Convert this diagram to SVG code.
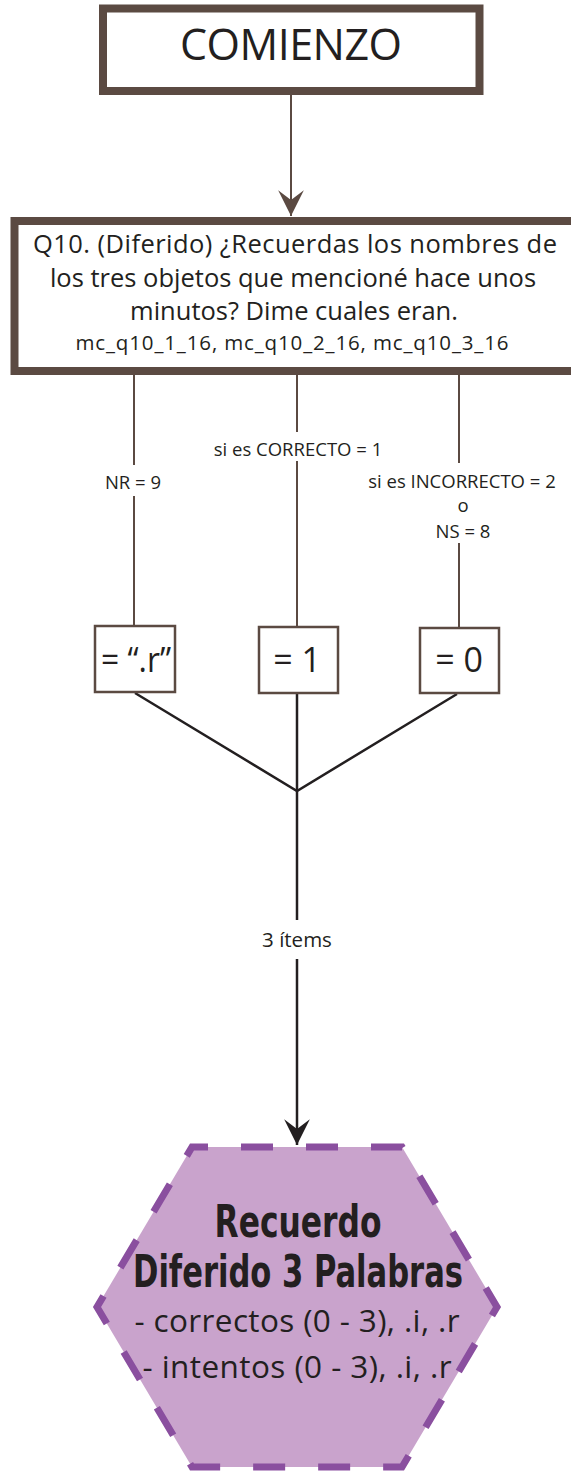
<svg xmlns="http://www.w3.org/2000/svg" width="571" height="1472" viewBox="0 0 571 1472">
<style>
.txt{font-family:"Open Sans","Noto Sans","Liberation Sans",sans-serif;fill:#231f20;text-anchor:middle}
.big{stroke:#5b4a42;stroke-width:8;fill:#ffffff}
.small{stroke:#5b4a42;stroke-width:2.5;fill:#ffffff}
.brn{stroke:#5b4a42;stroke-width:2;fill:none}
.blk{stroke:#231f20;stroke-width:2.5;fill:none}
.lbl{font-size:18.5px}
.val{font-size:34px}
.hex{fill:#c9a3cc;stroke:#8a4f9f;stroke-width:7;stroke-dasharray:32 33;stroke-dashoffset:16}
.title{font-family:"Liberation Sans Narrow","DejaVu Sans Condensed","Liberation Sans",sans-serif;font-weight:bold;font-stretch:condensed;fill:#231f20;text-anchor:middle;font-size:45px}
</style>
<defs>
<marker id="arrB" markerUnits="userSpaceOnUse" markerWidth="30" markerHeight="30" viewBox="-26 -14 28 28" refX="0" refY="0" orient="auto">
<path d="M0,0 L-24,-12 L-15,0 L-24,12 Z" fill="#5b4a42"/>
</marker>
<marker id="arrK" markerUnits="userSpaceOnUse" markerWidth="30" markerHeight="30" viewBox="-26 -14 28 28" refX="0" refY="0" orient="auto">
<path d="M0,0 L-24,-12 L-15,0 L-24,12 Z" fill="#231f20"/>
</marker>
</defs>
<rect width="571" height="1472" fill="#ffffff"/>

<g id="connectors">
<line class="brn" x1="291" y1="95" x2="291" y2="216" marker-end="url(#arrB)"/>
<line class="brn" x1="134" y1="375" x2="134" y2="465"/>
<line class="brn" x1="134" y1="496" x2="134" y2="626"/>
<line class="brn" x1="297" y1="375" x2="297" y2="432"/>
<line class="brn" x1="297" y1="461" x2="297" y2="627"/>
<line class="brn" x1="459" y1="375" x2="459" y2="463"/>
<line class="brn" x1="459" y1="543" x2="459" y2="628"/>
<text class="txt lbl" x="133" y="489">NR = 9</text>
<text class="txt lbl" x="298" y="456">si es CORRECTO = 1</text>
<text class="txt lbl" x="462" y="488">si es INCORRECTO = 2</text>
<text class="txt lbl" x="463" y="512">o</text>
<text class="txt lbl" x="463" y="538">NS = 8</text>
<polyline class="blk" points="135,693 297,791 457,694"/>
<line class="blk" x1="297" y1="693" x2="297" y2="920"/>
<line class="blk" x1="297" y1="959" x2="297" y2="1145" marker-end="url(#arrK)"/>
<text class="txt" x="297" y="947" font-size="20.5">3 ítems</text>
</g>

<g id="comienzo">
<rect class="big" x="103" y="8.5" width="376.5" height="82.5"/>
<text class="txt" x="291" y="60" font-size="43" textLength="222">COMIENZO</text>
</g>

<g id="q10">
<rect class="big" x="14.5" y="221" width="562" height="150"/>
<text class="txt" x="295" y="253" font-size="25.5" textLength="524">Q10. (Diferido) ¿Recuerdas los nombres de</text>
<text class="txt" x="293" y="287" font-size="25.5">los tres objetos que mencioné hace unos</text>
<text class="txt" x="294" y="320" font-size="25.5">minutos? Dime cuales eran.</text>
<text class="txt" x="292" y="350" font-size="20.5" textLength="433">mc_q10_1_16, mc_q10_2_16, mc_q10_3_16</text>
</g>

<g id="val-r">
<rect class="small" x="95" y="626" width="80" height="66"/>
<text class="txt val" x="136" y="672" textLength="70" lengthAdjust="spacingAndGlyphs">= “.r”</text>
</g>
<g id="val-1">
<rect class="small" x="259" y="627" width="79" height="66"/>
<text class="txt val" x="297" y="672">= 1</text>
</g>
<g id="val-0">
<rect class="small" x="420" y="628" width="79" height="65"/>
<text class="txt val" x="459" y="672">= 0</text>
</g>

<g id="recuerdo">
<path class="hex" d="M192,1147 L402,1147 L497,1307 L402,1467 L192,1467 L97,1307 Z"/>
<text class="title" x="298" y="1237" textLength="167" lengthAdjust="spacingAndGlyphs">Recuerdo</text>
<text class="title" x="298" y="1287" textLength="330" lengthAdjust="spacingAndGlyphs">Diferido 3 Palabras</text>
<text class="txt" x="297" y="1332" font-size="31.5" textLength="325">- correctos (0 - 3), .i, .r</text>
<text class="txt" x="297" y="1378" font-size="31.5" textLength="309">- intentos (0 - 3), .i, .r</text>
</g>
</svg>
